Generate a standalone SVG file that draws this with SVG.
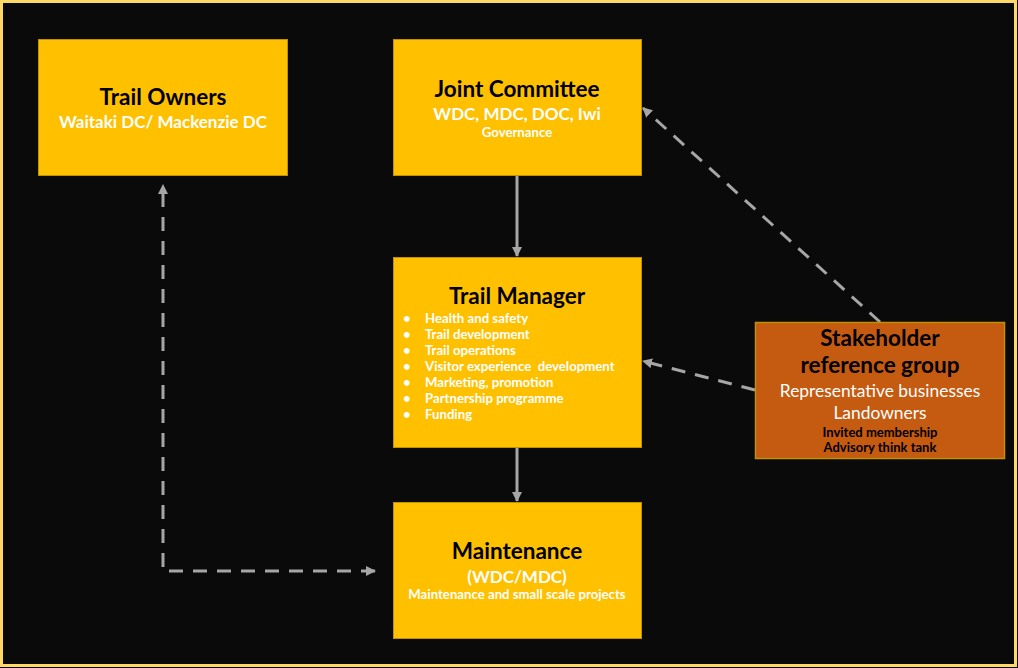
<svg xmlns="http://www.w3.org/2000/svg" width="1018" height="668" viewBox="0 0 1018 668">
<style>
.box{fill:#FFC000;stroke:#BF9000;stroke-width:1}
.sbox{fill:#C55A11;stroke:#BF9000;stroke-width:1.5}
text{font-family:Lato,"Liberation Sans",sans-serif;font-weight:bold}
.t{font-size:22.5px;fill:#000;text-anchor:middle}
.w{fill:#fff;text-anchor:middle}
.b{font-size:13.2px;fill:#fff}
.n{font-weight:normal}
.solid{stroke:#A6A6A6;stroke-width:3;fill:none}
.dash{stroke:#A6A6A6;stroke-width:3;fill:none;stroke-dasharray:14 10}
</style>
<defs>
<marker id="ah" viewBox="0 0 10 10" refX="9" refY="5" markerWidth="10" markerHeight="10" markerUnits="userSpaceOnUse" orient="auto-start-reverse">
<path d="M0,0 L10,5 L0,10 Z" fill="#A6A6A6"/>
</marker>
</defs>
<rect x="0" y="0" width="1018" height="668" fill="#0A0A0A"/>
<rect x="1.5" y="1.5" width="1014" height="664" fill="none" stroke="#FFD966" stroke-width="3"/>
<g id="connectors">
<line class="solid" x1="517" y1="176" x2="517" y2="256" marker-end="url(#ah)"/>
<line class="solid" x1="517" y1="448" x2="517" y2="501" marker-end="url(#ah)"/>
<path class="dash" d="M375,571 L163,571 L163,185" marker-start="url(#ah)" marker-end="url(#ah)"/>
<line class="dash" x1="880" y1="322" x2="643" y2="108" marker-end="url(#ah)"/>
<line class="dash" x1="755" y1="390" x2="643" y2="361" marker-end="url(#ah)"/>
</g>
<g id="trail-owners">
<rect class="box" x="38.5" y="39.5" width="249" height="136"/>
<text class="t" x="163" y="105">Trail Owners</text>
<text class="w" x="163" y="128" font-size="17">Waitaki DC/ Mackenzie DC</text>
</g>
<g id="joint-committee">
<rect class="box" x="393.5" y="39.5" width="248" height="136"/>
<text class="t" x="517" y="97">Joint Committee</text>
<text class="w" x="517" y="120" font-size="17">WDC, MDC, DOC, Iwi</text>
<text class="w" x="517" y="137" font-size="13.2">Governance</text>
</g>
<g id="trail-manager">
<rect class="box" x="393.5" y="257.5" width="248" height="190"/>
<text class="t" x="517" y="304">Trail Manager</text>
<g class="b">
<text x="403" y="323">•</text><text x="425" y="323">Health and safety</text>
<text x="403" y="339">•</text><text x="425" y="339">Trail development</text>
<text x="403" y="355">•</text><text x="425" y="355">Trail operations</text>
<text x="403" y="371">•</text><text x="425" y="371" xml:space="preserve">Visitor experience  development</text>
<text x="403" y="387">•</text><text x="425" y="387">Marketing, promotion</text>
<text x="403" y="403">•</text><text x="425" y="403">Partnership programme</text>
<text x="403" y="419">•</text><text x="425" y="419">Funding</text>
</g>
</g>
<g id="maintenance">
<rect class="box" x="393.5" y="502.5" width="248" height="136"/>
<text class="t" x="517" y="559">Maintenance</text>
<text class="w" x="517" y="583" font-size="17">(WDC/MDC)</text>
<text class="w" x="517" y="599" font-size="13.2">Maintenance and small scale projects</text>
</g>
<g id="stakeholder">
<rect class="sbox" x="755.5" y="322.5" width="249" height="136"/>
<text class="t" x="880" y="346">Stakeholder</text>
<text class="t" x="880" y="373">reference group</text>
<text class="w n" x="880" y="397" font-size="17.4">Representative businesses</text>
<text class="w n" x="880" y="419" font-size="17.4">Landowners</text>
<text x="880" y="437" font-size="13" fill="#000" text-anchor="middle">Invited membership</text>
<text x="880" y="452" font-size="13" fill="#000" text-anchor="middle">Advisory think tank</text>
</g>
</svg>
